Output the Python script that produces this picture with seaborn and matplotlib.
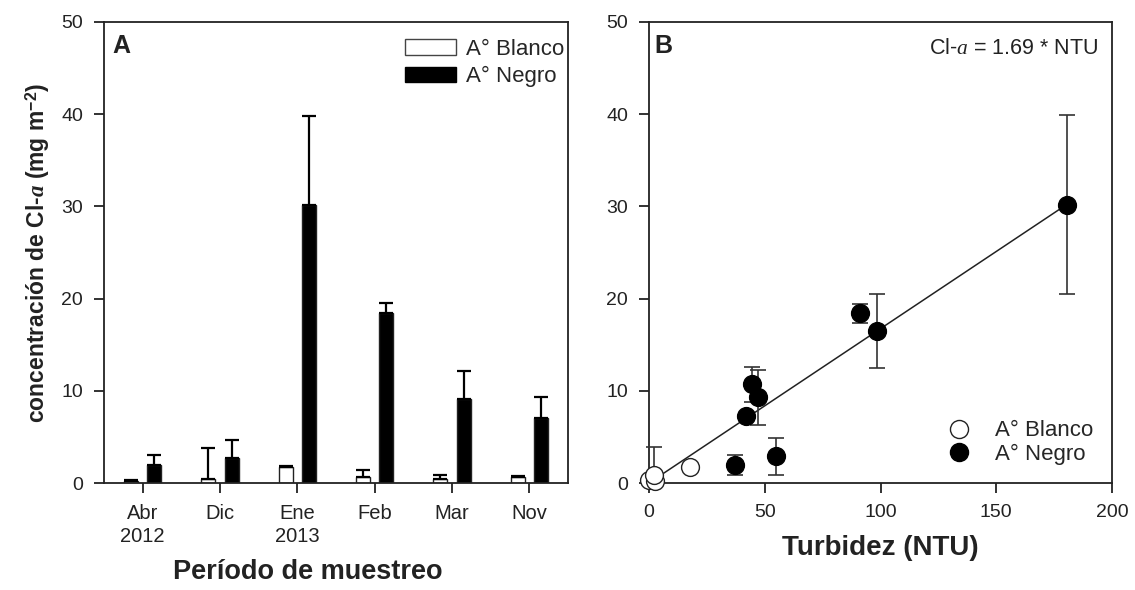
import numpy as np
import pandas as pd
import matplotlib
matplotlib.use("Agg")
import matplotlib.pyplot as plt
import seaborn as sns
from matplotlib.patches import Patch
from matplotlib.lines import Line2D

# ---------------- data ----------------
periods = ["Abr\n2012", "Dic", "Ene\n2013", "Feb", "Mar", "Nov"]
sites = ["A° Blanco", "A° Negro"]
blanco_mean = [0.2, 0.4, 1.7, 0.6, 0.4, 0.7]
blanco_err = [0.1, 3.4, 0.1, 0.8, 0.5, 0.1]
negro_mean = [1.9, 2.7, 30.1, 18.4, 9.1, 7.1]
negro_err = [1.1, 2.0, 9.7, 1.1, 3.1, 2.2]

# panel B
blanco_ntu = [0.0, 2.5, 2.0, 17.5]
blanco_cla = [0.3, 0.2, 0.9, 1.7]
blanco_cla_err_lo = [0.0, 0.0, 0.9, 0.0]
blanco_cla_err_hi = [0.0, 0.0, 3.0, 0.0]
negro_ntu = [37.1, 41.9, 44.5, 47.3, 55.0, 91.0, 98.3, 180.4]
negro_cla = [1.95, 7.25, 10.7, 9.3, 2.9, 18.4, 16.5, 30.2]
negro_cla_err = [1.1, 0.0, 1.9, 3.0, 2.0, 1.0, 4.0, 9.7]
fit_x = [0.0, 180.4]
fit_y = [0.0, 30.2]
fit_label = r"Cl-$\mathit{a}$ = 1.69 * NTU"

# ---------------- style ----------------
sns.set_theme(style="ticks")
plt.rcParams["font.family"] = ["Liberation Sans", "DejaVu Sans"]
plt.rcParams["mathtext.fontset"] = "custom"
plt.rcParams["mathtext.rm"] = "Liberation Sans"
plt.rcParams["mathtext.it"] = "Liberation Serif:italic"
plt.rcParams["mathtext.bf"] = "Liberation Sans:bold"
plt.rcParams["mathtext.bfit"] = "Liberation Serif:italic:bold"

TXT = "#222222"
fig = plt.figure(figsize=(11.35, 5.9), dpi=100)
axA = fig.add_axes([104/1135, 1-483/590, (568-104)/1135, (483-22)/590])
axB = fig.add_axes([649/1135, 1-483/590, (1112-649)/1135, (483-22)/590])

for ax in (axA, axB):
    for s in ax.spines.values():
        s.set_linewidth(1.3)
        s.set_color("#222222")
        s.set_visible(True)
    ax.tick_params(direction="out", length=7, width=1.3, labelsize=14,
                   colors="#222222", labelcolor=TXT, pad=8)

# ---------------- panel A ----------------
dfA = pd.DataFrame({
    "periodo": periods * 2,
    "sitio": [sites[0]] * len(periods) + [sites[1]] * len(periods),
    "valor": blanco_mean + negro_mean,
})
sns.barplot(data=dfA, x="periodo", y="valor", hue="sitio", order=periods,
            hue_order=sites, palette={sites[0]: "white", sites[1]: "black"},
            edgecolor="#222222", linewidth=1.0, width=0.6, gap=0.4,
            errorbar=None, ax=axA, legend=False)
for cont, errs in zip(axA.containers, [blanco_err, negro_err]):
    xs = [p.get_x() + p.get_width() / 2 for p in cont.patches]
    ys = [p.get_height() for p in cont.patches]
    axA.errorbar(xs, ys, yerr=[np.zeros(len(errs)), errs], fmt="none",
                 ecolor="black", elinewidth=1.6, capsize=5.3, capthick=1.6,
                 zorder=1)
axA.set_ylim(0, 50)
axA.set_xlim(-0.5, 5.5)
axA.set_yticks([0, 10, 20, 30, 40, 50])
axA.tick_params(axis="x", labelsize=14.5)
for lab in axA.get_xticklabels():
    lab.set_linespacing(1.3)
axA.set_xlabel("Período de muestreo", fontsize=19.5, fontweight="bold", color=TXT)
axA.xaxis.set_label_coords(0.44, -0.165)
axA.set_ylabel(r"concentración de Cl-$\mathbfit{a}$ (mg m$^{\mathbf{-2}}$)",
               fontsize=16.5, fontweight="bold", color=TXT, labelpad=7)
axA.text(0.018, 0.975, "A", transform=axA.transAxes, fontsize=18,
         fontweight="bold", va="top", ha="left", color=TXT)
handlesA = [Patch(facecolor="white", edgecolor="#444444", linewidth=1.0),
            Patch(facecolor="black", edgecolor="black")]
axA.legend(handlesA, sites, loc="upper right", frameon=False, fontsize=16,
           bbox_to_anchor=(1.018, 0.99), handlelength=2.3, handleheight=0.7,
           borderaxespad=0.25, borderpad=0.3, handletextpad=0.45,
           labelspacing=0.28)

# ---------------- panel B ----------------
axB.plot(fit_x, fit_y, color="#222222", linewidth=1.1, zorder=2)
axB.errorbar(negro_ntu, negro_cla, yerr=negro_cla_err, fmt="none",
             ecolor="#333333", elinewidth=1.2, capsize=6, capthick=1.2,
             zorder=3)
axB.errorbar(blanco_ntu, blanco_cla,
             yerr=[blanco_cla_err_lo, blanco_cla_err_hi], fmt="none",
             ecolor="#333333", elinewidth=1.2, capsize=6, capthick=1.2,
             zorder=3, clip_on=False)
dfBb = pd.DataFrame({"ntu": blanco_ntu, "cla": blanco_cla})
dfBn = pd.DataFrame({"ntu": negro_ntu, "cla": negro_cla})
sns.scatterplot(data=dfBb, x="ntu", y="cla", color="white", edgecolor="#222222",
                linewidth=1.0, s=165, ax=axB, zorder=4, clip_on=False)
sns.scatterplot(data=dfBn, x="ntu", y="cla", color="black", edgecolor="black",
                linewidth=1.0, s=165, ax=axB, zorder=4, clip_on=False)
axB.set_xlim(0, 200)
axB.set_ylim(0, 50)
axB.set_xticks([0, 50, 100, 150, 200])
axB.set_yticks([0, 10, 20, 30, 40, 50])
axB.set_xlabel("Turbidez (NTU)", fontsize=20, fontweight="bold", color=TXT,
               labelpad=10)
axB.set_ylabel("")
axB.text(0.012, 0.975, "B", transform=axB.transAxes, fontsize=18,
         fontweight="bold", va="top", ha="left", color=TXT)
axB.text(0.97, 0.965, fit_label, transform=axB.transAxes, fontsize=15.5,
         va="top", ha="right", color=TXT)
handlesB = [Line2D([], [], marker="o", linestyle="none", markerfacecolor="white",
                   markeredgecolor="#222222", markersize=13),
            Line2D([], [], marker="o", linestyle="none", markerfacecolor="black",
                   markeredgecolor="black", markersize=13)]
axB.legend(handlesB, sites, loc="lower right", frameon=False, fontsize=16,
           bbox_to_anchor=(0.993, 0.005), handletextpad=0.6, labelspacing=0.12,
           borderpad=0.2)

fig.savefig("out.png", dpi=100)
